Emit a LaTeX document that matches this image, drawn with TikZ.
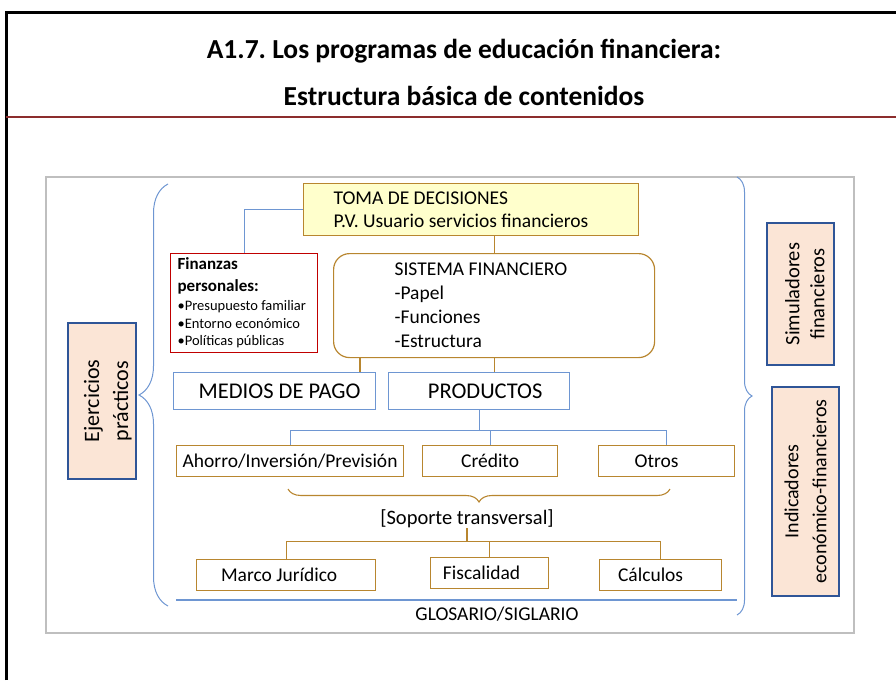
\documentclass[tikz,border=0pt]{standalone}
\usepackage{fontspec}
\setmainfont{Carlito}
\usetikzlibrary{decorations.pathreplacing}
\definecolor{goldline}{RGB}{184,134,47}
\definecolor{boxblue}{RGB}{110,150,210}
\definecolor{darkblue}{RGB}{47,85,151}
\definecolor{peach}{RGB}{251,229,214}
\definecolor{lightyellow}{RGB}{255,255,204}
\definecolor{darkred}{RGB}{192,0,0}
\definecolor{titlered}{RGB}{140,45,45}
\frenchspacing
\begin{document}
\begin{tikzpicture}[x=1pt, y=-1pt,
    every node/.style={inner sep=0pt, font=\fontsize{19.5}{23}\selectfont},
    goldbox/.style={draw=goldline, line width=1.2pt, minimum height=31pt},
    bluebox/.style={draw=boxblue, line width=1.2pt, minimum height=37pt, font=\fontsize{22.5}{26}\selectfont},
    sidebox/.style={draw=darkblue, line width=1.2pt, fill=peach, rotate=90, align=center},
    goldlink/.style={draw=goldline, line width=1.1pt},
    bluelink/.style={draw=boxblue, line width=1.1pt},
    bracel/.style={draw=boxblue, line width=1pt, decorate}]
    \useasboundingbox (0,0) rectangle (896,680);
    \draw[line width=3pt] (6,680) -- (6,12) -- (896,12);
    \draw[titlered, line width=2.5pt] (6,117) -- (896,117);
    \node[font=\bfseries\fontsize{27.5}{32}\selectfont] (title1) at (464,51) {A1.7. Los programas de educación financiera:};
    \node[font=\bfseries\fontsize{27.5}{32}\selectfont] (title2) at (464,96) {Estructura básica de contenidos};
    \draw[black!25, line width=1.2pt] (46,177) rectangle (854,633);

    \node[draw=goldline, line width=1.2pt, fill=lightyellow, anchor=north west, text width=275pt, inner xsep=30pt, minimum height=52pt, align=flush left] (toma) at (303,183) {TOMA DE DECISIONES\\P.V. Usuario servicios financieros};
    \node[draw=darkred, line width=1.2pt, anchor=north west, text width=133pt, inner xsep=7pt, minimum height=99pt, align=flush left] (finanzas) at (170,253)
        {{\fontsize{17}{22}\selectfont\bfseries Finanzas\\personales:\par}\vspace{1.5pt}
         {\fontsize{14.5}{17.5}\selectfont •Presupuesto familiar\\•Entorno económico\\•Políticas públicas\par}};
    \node[draw=goldline, line width=1.2pt, rounded corners=16pt, anchor=north west, text width=199pt, inner xsep=61pt, minimum height=104pt, align=flush left, font=\fontsize{19.5}{24}\selectfont] (sistema) at (333,253)
        {SISTEMA FINANCIERO\\-Papel\\-Funciones\\-Estructura};

    \node[bluebox, anchor=north west, minimum width=202pt] (medios) at (173,372) {\hspace*{10pt}MEDIOS DE PAGO};
    \node[bluebox, anchor=north west, minimum width=181pt] (productos) at (388,372) {\hspace*{12pt}PRODUCTOS};

    \node[goldbox, anchor=north west, minimum width=227pt] (ahorro) at (176,445) {Ahorro/Inversión/Previsión};
    \node[goldbox, anchor=north west, minimum width=135pt] (credito) at (422,445) {Crédito};
    \node[goldbox, anchor=north west, minimum width=136pt] (otros) at (598,445) {Otros\hspace*{20pt}};

    \draw[goldlink, decorate, decoration={brace, amplitude=13pt}] (670,489) -- (288,489);
    \node[font=\fontsize{20.5}{24}\selectfont] (soporte) at (467,519) {[Soporte transversal]};

    \node[goldbox, anchor=north west, minimum width=179pt] (marco) at (196,559) {Marco Jurídico\hspace*{14pt}};
    \node[goldbox, anchor=north west, minimum width=118pt] (fiscal) at (430,557) {Fiscalidad\hspace*{16pt}};
    \node[goldbox, anchor=north west, minimum width=122pt] (calculos) at (599,559) {Cálculos\hspace*{20pt}};

    \draw[boxblue, line width=2pt] (176,600) -- (737,600);
    \node (glosario) at (497,614) {GLOSARIO/SIGLARIO};

    \node[sidebox, minimum width=156pt, minimum height=68pt, text height=56pt, font=\fontsize{22}{29}\selectfont] (ejercicios) at (102,401) {Ejercicios\\prácticos};
    \node[sidebox, minimum width=142pt, minimum height=67pt, text height=48pt, font=\fontsize{20.5}{25}\selectfont] (simuladores) at (800.5,294) {Simuladores\\financieros};
    \node[sidebox, minimum width=209pt, minimum height=67pt, font=\fontsize{20}{28}\selectfont] (indicadores) at (805.5,491.5) {Indicadores\\económico-financieros};

    \draw[bracel, decoration={brace, amplitude=29pt}] (168,606) -- (168,184);
    \draw[bracel, decoration={brace, amplitude=15pt}] (737,177) -- (737,615);

    \draw[bluelink] (toma.west) -| (finanzas.north);
    \draw[goldlink] (sistema.north |- toma.south) -- (sistema.north);
    \draw[goldlink] ([xshift=27pt]sistema.south west) -- ([xshift=27pt]sistema.south west |- medios.north);
    \draw[goldlink] (sistema.south) -- (sistema.south |- productos.north);
    \draw[bluelink] (productos.south) -- ++(0,20) coordinate (pj);
    \draw[bluelink] (ahorro.north) |- (otros.north |- pj) -- (otros.north);
    \draw[bluelink] (pj) -| (credito.north);
    \draw[goldlink] (soporte.south) -- ++(0,13) coordinate (sj);
    \draw[goldlink] (marco.north) |- (calculos.north |- sj) -- (calculos.north);
    \draw[goldlink] (sj) -| (fiscal.north);
\end{tikzpicture}
\end{document}
